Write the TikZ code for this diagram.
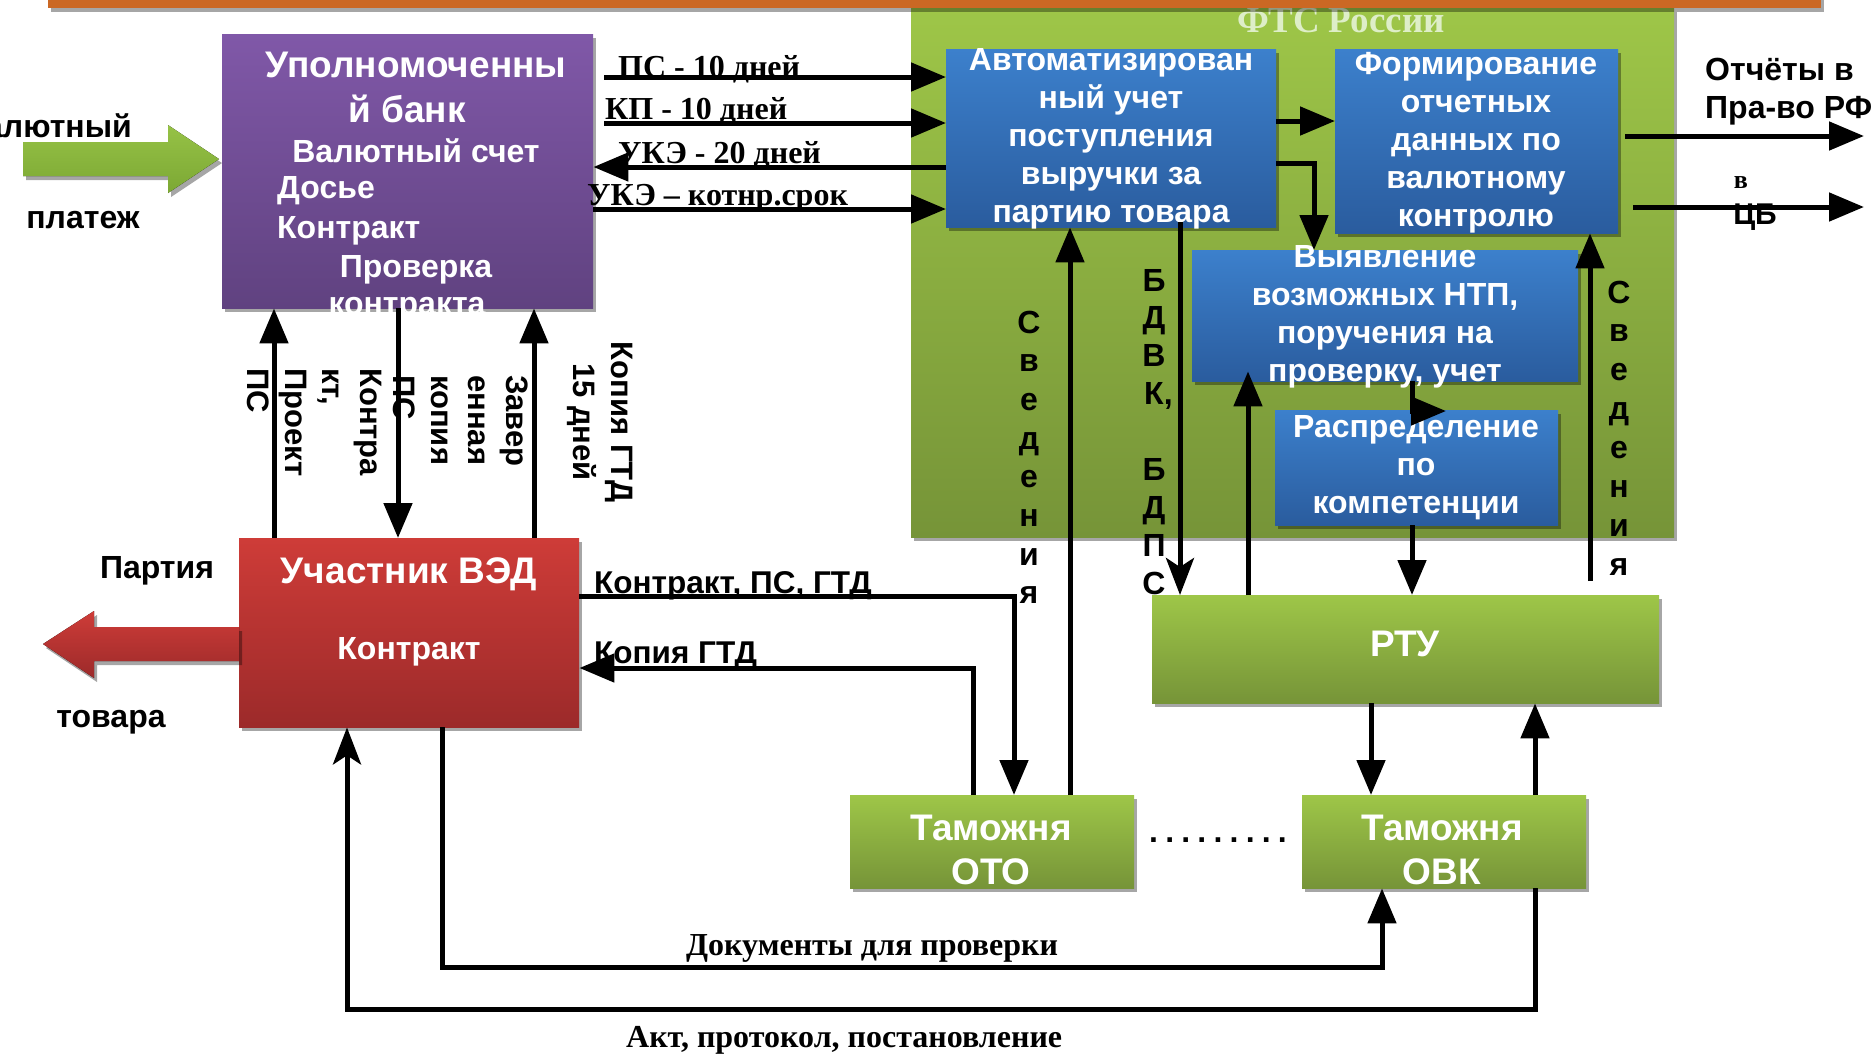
\documentclass[tikz,border=0pt]{standalone}
\usepackage{fontspec}
\setmainfont{Liberation Serif}
\newfontfamily\arf{Liberation Sans}
\usetikzlibrary{arrows.meta,shadows}
\definecolor{gT}{RGB}{158,198,72}
\definecolor{gB}{RGB}{118,148,56}
\definecolor{bT}{RGB}{60,128,204}
\definecolor{bB}{RGB}{42,92,158}
\definecolor{pT}{RGB}{128,88,168}
\definecolor{pB}{RGB}{96,66,128}
\definecolor{rT}{RGB}{206,60,56}
\definecolor{rB}{RGB}{156,42,42}
\definecolor{orC}{RGB}{203,104,36}
\definecolor{ftsC}{RGB}{222,238,200}
\definecolor{agT}{RGB}{150,194,70}
\definecolor{agB}{RGB}{124,168,52}
\newcommand\dsep{\hspace{7.2pt}}
\begin{document}
\begin{tikzpicture}[x=1pt,y=-1pt,
  every node/.style={inner sep=0pt},
  shd/.style={drop shadow={shadow xshift=3pt,shadow yshift=-4pt,opacity=0.35,fill=black}},
  box/.style={shd,anchor=north west,inner sep=0pt,draw=none},
  gbox/.style={box,top color=gT,bottom color=gB},
  bbox/.style={box,top color=bT,bottom color=bB},
  wtxt/.style={text=white,font=\arf\bfseries\fontsize{32}{38}\selectfont,align=center},
  wbig/.style={text=white,font=\arf\bfseries\fontsize{37}{45}\selectfont,align=center},
  btxt/.style={text=black,font=\arf\bfseries\fontsize{32}{38}\selectfont,align=left},
  lbl/.style={text=black,font=\arf\bfseries\fontsize{31.5}{36}\selectfont},
  tms/.style={text=black,font=\bfseries\fontsize{32}{36}\selectfont},
  tmsb/.style={text=black,font=\bfseries\fontsize{32}{38}\selectfont},
  rot/.style={rotate=-90,text=black,font=\arf\bfseries\fontsize{31}{37.5}\selectfont},
  arr/.style={line width=5pt,-{Triangle[length=35pt,width=28pt]}},
  arrs/.style={line width=5pt,-{Stealth[length=37pt,width=28pt,inset=9pt]}},
]
\path[use as bounding box] (0,0) rectangle (1872,1053);
\clip (0,0) rectangle (1872,1053);
\fill[white] (0,0) rectangle (1872,1053);

% ---- FTS area
\node[gbox,minimum width=763pt,minimum height=529pt] (fts) at (911,8) {};
\node[font=\bfseries\fontsize{37}{42}\selectfont,text=ftsC,anchor=base] (ftst) at (1341,32) {ФТС России};
\node[box,fill=orC,minimum width=1773pt,minimum height=14pt] (bar) at (48,-6) {};

% ---- boxes
\node[box,top color=pT,bottom color=pB,minimum width=371pt,minimum height=274pt] (bank) at (222,34) {};
\node[bbox,minimum width=330pt,minimum height=178pt] (ab) at (946,49) {};
\node[bbox,minimum width=283pt,minimum height=184pt] (form) at (1335,49) {};
\node[bbox,minimum width=386pt,minimum height=131pt] (ntp) at (1192,250) {};
\node[bbox,minimum width=283pt,minimum height=115pt] (dist) at (1275,410) {};
\node[gbox,minimum width=507pt,minimum height=108pt] (rtu) at (1152,595) {};
\node[gbox,minimum width=284pt,minimum height=93pt] (oto) at (850,795) {};
\node[gbox,minimum width=284pt,minimum height=93pt] (ovk) at (1302,795) {};
\node[box,top color=rT,bottom color=rB,minimum width=340pt,minimum height=189pt] (ved) at (239,538) {};

% ---- big arrows
\fill[shd,top color=agT,bottom color=agB] (23,142) -- (168,142) -- (168,125) -- (219,159) -- (168,193) -- (168,176) -- (23,176) -- cycle;
\fill[shd,top color=rT,bottom color=rB] (239,627) -- (94,627) -- (94,611) -- (43,644) -- (94,678) -- (94,661) -- (239,661) -- cycle;

% ---- box texts
\node[wbig,anchor=base] (b1) at (416,77) {Уполномоченны};
\node[wbig,anchor=base] (b2) at (407,122) {й банк};
\node[wtxt,anchor=base] (b3) at (416,162) {Валютный счет};
\node[wtxt,anchor=base west] (b4) at (277,198) {Досье};
\node[wtxt,anchor=base west] (b5) at (277,238) {Контракт};
\node[wtxt,anchor=base] (b6) at (416,277) {Проверка};
\node[wtxt,anchor=base] (b7) at (407,314) {контракта};

\node[wtxt] (abt) at (1111,139) {Автоматизирован\\ный учет\\поступления\\выручки за\\партию товара};
\node[wtxt] (formt) at (1476,143) {Формирование\\отчетных\\данных по\\валютному\\контролю};
\node[wtxt] (ntpt) at (1385,317) {Выявление\\возможных НТП,\\поручения на\\проверку, учет};
\node[wtxt] (distt) at (1416,468) {Распределение\\по\\компетенции};
\node[wbig,anchor=base] (rtut) at (1405,656) {РТУ};
\node[wtxt,font=\arf\bfseries\fontsize{37}{44}\selectfont] (otot) at (991,850) {Таможня\\ОТО};
\node[wtxt,font=\arf\bfseries\fontsize{37}{44}\selectfont] (ovkt) at (1442,850) {Таможня\\ОВК};
\node[wbig,anchor=base] (vedt1) at (409,583) {Участник ВЭД};
\node[wtxt,anchor=base] (vedt2) at (409,659) {Контракт};

% ---- outside texts
\node[btxt,anchor=base east] (val) at (132,137) {Валютный};
\node[btxt,anchor=base] (plat) at (83,228) {платеж};
\node[btxt,anchor=base] (part) at (157,578) {Партия};
\node[btxt,anchor=base] (tov) at (111,727) {товара};
\node[btxt,anchor=base west] (otch1) at (1705,80) {Отчёты в};
\node[btxt,anchor=base west] (otch2) at (1705,118) {Пра-во РФ};
\node[font=\bfseries\fontsize{26}{30}\selectfont,anchor=base] (vv) at (1741,188) {в};
\node[btxt,font=\arf\bfseries\fontsize{30}{34}\selectfont,anchor=base] (cb) at (1755,224) {ЦБ};
\node[btxt,anchor=base west] (dots) at (1149,842) {.\dsep.\dsep.\dsep.\dsep.\dsep.\dsep.\dsep.\dsep.};

\node[tms,anchor=base west] (l1) at (618,77) {ПС - 10 дней};
\node[tms,anchor=base west] (l2) at (605,119) {КП - 10 дней};
\node[tms,anchor=base west] (l3) at (618,163) {УКЭ - 20 дней};
\node[tms,anchor=base west] (l4) at (587,205) {УКЭ – котнр.срок};
\node[lbl,anchor=base west] (l5) at (594,593) {Контракт, ПС, ГТД};
\node[lbl,anchor=base west] (l6) at (594,663) {Копия ГТД};
\node[tmsb,anchor=base west] (l7) at (686,955) {Документы для проверки};
\node[tmsb,anchor=base west] (l8) at (626,1047) {Акт, протокол, постановление};

\node[rot,align=left,anchor=north west] (rb) at (382,368) {Контра\\кт,\\Проект\\ПС};
\node[rot,align=left,anchor=north west] (ra) at (528,375) {Завер\\енная\\копия\\ПС};
\node[rot,align=center,anchor=north] (rk) at (633,422) {Копия ГТД\\15 дней};

\foreach \c [count=\i from 0] in {С,в,е,д,е,н,и,я}
  \node[btxt,anchor=base] (sl\i) at (1029,{333+\i*38.7}) {\c};
\foreach \c [count=\i from 0] in {С,в,е,д,е,н,и,я}
  \node[btxt,anchor=base] (sr\i) at (1619,{303+\i*38.9}) {\c};
\foreach \c [count=\i from 0] in {Б,Д,В,{К\rlap{,}},{},Б,Д,П,С}
  \node[btxt,anchor=base] (sb\i) at (1154,{291+\i*37.9}) {\c};

% ---- connectors
\draw[arr] (bank.east |- 0,77) ++(11,0) -- (ab.west |- 0,77);
\draw[arr] (bank.east |- 0,123) ++(11,0) -- (ab.west |- 0,123);
\draw[arr] (ab.west |- 0,167) -- (bank.east |- 0,167);
\draw[arr] (bank.east |- 0,209) -- (ab.west |- 0,209);
\draw[arr] (ab.east |- 0,121) -- (form.west |- 0,121);
\draw[arr] (ab.east |- 0,163) -- (1314,163) -- (1314,0 |- ntp.north);
\coordinate (o1) at (1864,136);
\coordinate (o2) at (1864,207);
\draw[arr] (form.east |- 0,136) ++(7,0) -- (o1);
\draw[arr] (form.east |- 0,207) ++(15,0) -- (o2);
\draw[arr] (oto.north -| 1070,0) -- (ab.south -| 1070,0);
\draw[arrs] (ab.south -| 1180,0) ++(0,-5) -- (rtu.north -| 1180,0);
\draw[arr,shorten >=-10pt] (rtu.north -| 1248,0) -- (ntp.south -| 1248,0);
\coordinate (k) at (1446,411);
\draw[arr] (ntp.south -| 1412,0) -- (1412,411) -- (k);
\draw[arr] (dist.south -| 1412,0) -- (rtu.north -| 1412,0);
\coordinate (rs) at (1590,581);
\draw[arr] (rs) -- (form.south -| rs);
\draw[arr] (rtu.south -| 1371,0) -- (ovk.north -| 1371,0);
\draw[arr] (ovk.north -| 1535,0) -- (rtu.south -| 1535,0);
\draw[arr] (ved.east |- 0,596) -- (1014,596) -- (oto.north -| 1014,0);
\draw[arr] (oto.north -| 973,0) -- (973,668) -- (ved.east |- 0,668);
\draw[arr] (ved.south -| 442,0) -- (442,967) -- (1382,967) -- (ovk.south -| 1382,0);
\draw[arrs] (ovk.south -| 1535,0) -- (1535,1009) -- (347,1009) -- (ved.south -| 347,0);
\draw[arr] (ved.north -| 274,0) -- (bank.south -| 274,0);
\draw[arr] (bank.south -| 398,0) -- (ved.north -| 398,0);
\draw[arr] (ved.north -| 534,0) -- (bank.south -| 534,0);
\end{tikzpicture}
\end{document}
